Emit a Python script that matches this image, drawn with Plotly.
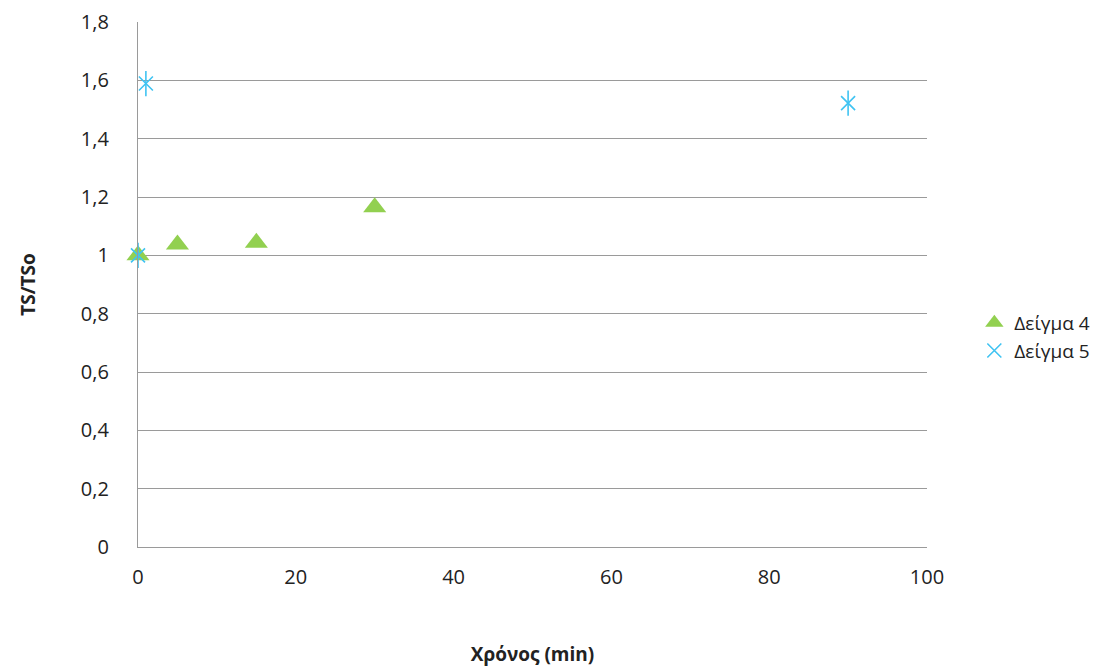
import plotly.graph_objects as go

x4 = [0, 5, 15, 30]
y4 = [1.0, 1.037, 1.043, 1.165]
x5 = [0, 1, 90]
y5 = [1.0, 1.589, 1.522]

green = "#92D050"
blue = "#3FC3F2"
font = "Open Sans, Lato, sans-serif"

fig = go.Figure()
fig.add_trace(go.Scatter(x=x4, y=y4, mode="markers", name="Δείγμα 4", cliponaxis=False,
                         marker=dict(symbol="triangle-up", size=20, color=green)))
fig.add_trace(go.Scatter(x=x5, y=y5, mode="markers", name="Δείγμα 5", cliponaxis=False,
                         marker=dict(symbol="x-thin-open", size=14, color=blue,
                                     line=dict(color=blue, width=1.6))))
fig.add_trace(go.Scatter(x=x5, y=y5, mode="markers", name="Δείγμα 5", showlegend=False,
                         cliponaxis=False,
                         marker=dict(symbol="line-ns-open", size=18, color=blue,
                                     line=dict(color=blue, width=1.6))))

fig.update_layout(
    width=1106, height=669,
    margin=dict(l=138, r=179, t=22, b=122, autoexpand=False),
    paper_bgcolor="white", plot_bgcolor="white",
    separators=",.",
    font=dict(family=font, size=20, color="#222"),
    showlegend=True,
    legend=dict(x=1.06, y=0.4, xanchor="left", yanchor="middle",
                font=dict(size=19), tracegroupgap=0, itemsizing="trace",
                itemwidth=30, bgcolor="rgba(0,0,0,0)"),
    xaxis=dict(range=[0, 100], dtick=20, tick0=0, showgrid=False, zeroline=False,
               showline=True, linecolor="#9a9a9a", linewidth=1.3, automargin=False,
               ticks="", ticklabelstandoff=12,
               title=dict(text="<b>Χρόνος (min)</b>", standoff=58, font=dict(size=19))),
    yaxis=dict(range=[0, 1.8], dtick=0.2, tick0=0, showgrid=True, gridcolor="#9a9a9a",
               gridwidth=1.2, zeroline=False, showline=True, linecolor="#9a9a9a",
               linewidth=1.3, ticks="", ticklabelstandoff=24, automargin=False,
               title=dict(text="<b>TS/TSo</b>", standoff=40, font=dict(size=19))),
)

fig.write_html("out.html")
